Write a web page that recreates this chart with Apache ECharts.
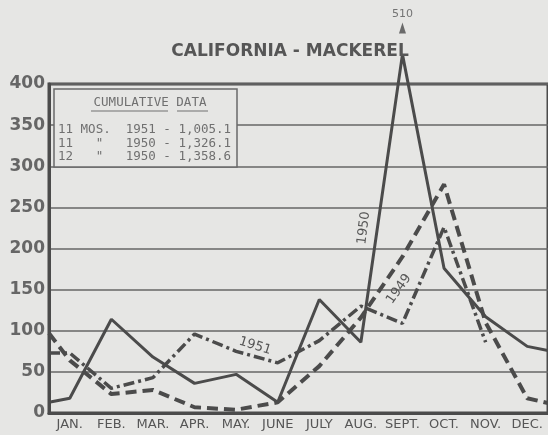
<!DOCTYPE html>
<html>
<head>
<meta charset="utf-8">
<script src="https://cdn.jsdelivr.net/npm/echarts@6/dist/echarts.min.js"></script>
<style>
  html, body { margin: 0; padding: 0; background: #e6e6e4; }
  #chart1 { width: 548px; height: 435px; }
</style>
</head>
<body>
<div id="chart1"></div>
<script>
// months along the bottom
var months = ['JAN.', 'FEB.', 'MAR.', 'APR.', 'MAY.', 'JUNE', 'JULY', 'AUG.', 'SEPT.', 'OCT.', 'NOV.', 'DEC.'];
// y axis ticks
var yTicks = [0, 50, 100, 150, 200, 250, 300, 350, 400];

// monthly landings
var catch1950 = [18, 114, 68, 36, 47, 13, 138, 86, 510, 176, 117, 81];
var catch1949 = [64, 23, 28, 7, 4, 13, 57, 116, 190, 278, 110, 18];
var catch1951 = [73, 30, 43, 96, 75, 61, 88, 130, 109, 226, 86];
// where each line meets the frame at the left / right edge
var edge1950 = [13, 76];
var edge1949 = [97, 12];
var edge1951 = [73];

// the 510 spike is drawn broken off just above the frame
var breakAt = 436;
var arrowAt = 468;

var ink = '#4b4b4b';
var textInk = '#565656';

function toPoints(values, edges) {
    var pts = [[0, Math.min(edges[0], breakAt)]];
    values.forEach(function (v, i) {
        pts.push([i + 0.5, Math.min(v, breakAt)]);
    });
    if (edges.length > 1) pts.push([months.length, edges[1]]);
    return pts;
}

var myChart = echarts.init(document.getElementById('chart1'));
myChart.setOption({
    backgroundColor: '#e6e6e4',
    animation: false,
    title: {
        text: 'CALIFORNIA - MACKEREL',
        left: 285,
        top: 38,
        textAlign: 'center',
        textStyle: { fontFamily: 'DejaVu Sans', fontSize: 17, fontWeight: 'bold', color: textInk }
    },
    grid: {
        left: 49, top: 84, width: 504, height: 329,
        show: true, borderColor: ink, borderWidth: 3
    },
    xAxis: [{
        type: 'category',
        data: months,
        boundaryGap: true,
        axisLine: { lineStyle: { color: ink, width: 3 } },
        axisTick: { inside: true, length: 21, lineStyle: { color: ink, width: 1.5 } },
        axisLabel: { fontFamily: 'DejaVu Sans', fontSize: 13, color: textInk, margin: 5, interval: 0 },
        splitLine: { show: false }
    }, {
        // hidden value axis the lines are drawn on, so they can run to the frame
        type: 'value',
        min: 0,
        max: months.length,
        show: false
    }],
    yAxis: {
        type: 'value',
        min: yTicks[0],
        max: yTicks[yTicks.length - 1],
        interval: yTicks[1] - yTicks[0],
        axisLine: { show: true, lineStyle: { color: ink, width: 3 } },
        axisTick: { show: false },
        axisLabel: { fontFamily: 'DejaVu Sans', fontSize: 17, fontWeight: 'bold', color: '#666', margin: 4 },
        splitLine: { lineStyle: { color: '#666', width: 1.5 } }
    },
    series: [{
        name: '1950',
        type: 'line',
        xAxisIndex: 1,
        clip: false,
        symbol: 'none',
        data: toPoints(catch1950, edge1950),
        lineStyle: { color: ink, width: 3 }
    }, {
        name: '1949',
        type: 'line',
        xAxisIndex: 1,
        clip: false,
        symbol: 'none',
        data: toPoints(catch1949, edge1949),
        lineStyle: { color: ink, width: 4, type: [11, 6] }
    }, {
        name: '1951',
        type: 'line',
        xAxisIndex: 1,
        clip: false,
        symbol: 'none',
        data: toPoints(catch1951, edge1951),
        lineStyle: { color: ink, width: 3.5, type: [11, 4, 3, 4] }
    }, {
        // arrow head pointing at the true peak value
        type: 'scatter',
        xAxisIndex: 1,
        clip: false,
        symbol: 'triangle',
        symbolSize: [7, 11],
        itemStyle: { color: ink },
        data: [[catch1950.indexOf(510) + 0.5, arrowAt, 510]],
        label: {
            show: true,
            position: 'top',
            distance: 3,
            formatter: function (p) { return p.value[2]; },
            fontFamily: 'DejaVu Sans',
            fontSize: 11,
            color: textInk
        }
    }],
    graphic: [
        // cumulative data box
        {
            type: 'rect',
            shape: { x: 54, y: 89, width: 183, height: 78 },
            style: { fill: '#e6e6e4', stroke: '#6a6a6a', lineWidth: 1.5 },
            z: 10
        },
        {
            type: 'text', x: 150, y: 103, z: 11,
            style: { text: 'CUMULATIVE DATA', align: 'center', verticalAlign: 'middle',
                     font: '12.5px "DejaVu Sans Mono"', fill: '#707070' }
        },
        { type: 'line', z: 11, shape: { x1: 91, y1: 111, x2: 168, y2: 111 }, style: { stroke: '#707070', lineWidth: 1 } },
        { type: 'line', z: 11, shape: { x1: 177, y1: 111, x2: 208, y2: 111 }, style: { stroke: '#707070', lineWidth: 1 } },
        {
            type: 'text', x: 58, y: 130, z: 11,
            style: { text: '11 MOS.  1951 - 1,005.1', verticalAlign: 'middle',
                     font: '12.5px "DejaVu Sans Mono"', fill: '#707070' }
        },
        {
            type: 'text', x: 58, y: 144, z: 11,
            style: { text: '11   "   1950 - 1,326.1', verticalAlign: 'middle',
                     font: '12.5px "DejaVu Sans Mono"', fill: '#707070' }
        },
        {
            type: 'text', x: 58, y: 157, z: 11,
            style: { text: '12   "   1950 - 1,358.6', verticalAlign: 'middle',
                     font: '12.5px "DejaVu Sans Mono"', fill: '#707070' }
        },
        // year labels written along the lines
        {
            type: 'text', x: 255, y: 346, rotation: -0.3, z: 11,
            style: { text: '1951', align: 'center', verticalAlign: 'middle',
                     font: '13px "DejaVu Sans"', fill: textInk }
        },
        {
            type: 'text', x: 364, y: 228, rotation: 1.45, z: 11,
            style: { text: '1950', align: 'center', verticalAlign: 'middle',
                     font: '13px "DejaVu Sans"', fill: textInk }
        },
        {
            type: 'text', x: 399, y: 289, rotation: 0.95, z: 11,
            style: { text: '1949', align: 'center', verticalAlign: 'middle',
                     font: '13px "DejaVu Sans"', fill: textInk }
        }
    ]
});
</script>
</body>
</html>
